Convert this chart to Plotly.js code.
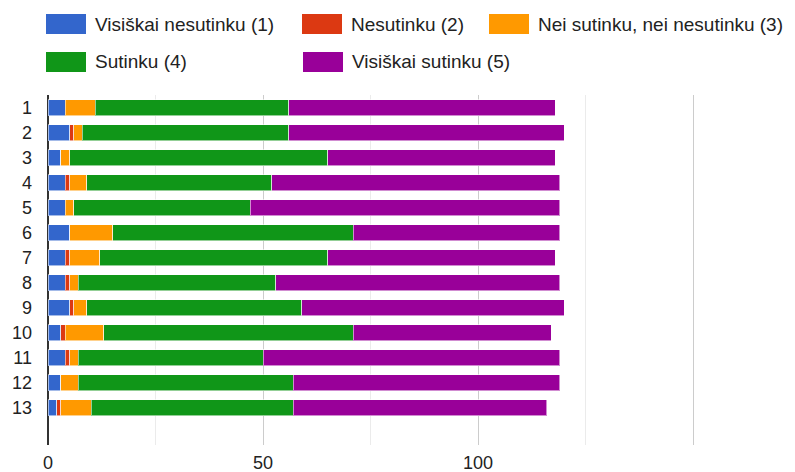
<!DOCTYPE html>
<html>
<head>
<meta charset="utf-8">
<script src="https://cdn.plot.ly/plotly-3.0.1.min.js"></script>
<style>html,body{margin:0;padding:0;background:#fff;}#chart{width:795px;height:472px;}</style>
</head>
<body>
<div id="chart"></div>
<script>
// ---- data ----
const categories = ['1','2','3','4','5','6','7','8','9','10','11','12','13'];
const seriesNames = ['Visiškai nesutinku (1)','Nesutinku (2)','Nei sutinku, nei nesutinku (3)','Sutinku (4)','Visiškai sutinku (5)'];
const seriesColors = ['#3366cc','#dc3912','#ff9900','#109618','#990099'];
const visiskaiNesutinku = [4, 5, 3, 4, 4, 5, 4, 4, 5, 3, 4, 3, 2];
const nesutinku         = [0, 1, 0, 1, 0, 0, 1, 1, 1, 1, 1, 0, 1];
const neiSutinku        = [7, 2, 2, 4, 2, 10, 7, 2, 3, 9, 2, 4, 7];
const sutinku           = [45, 48, 60, 43, 41, 56, 53, 46, 50, 58, 43, 50, 47];
const visiskaiSutinku   = [62, 64, 53, 67, 72, 48, 53, 66, 61, 46, 69, 62, 59];
const xTickVals = [0, 50, 100, 150];
const xTickText = ['0', '50', '100', ''];

const seriesValues = [visiskaiNesutinku, nesutinku, neiSutinku, sutinku, visiskaiSutinku];

// ---- layout geometry (pixels) ----
const W = 795, H = 472, L = 48, R = 795, T = 95, B = 445;
const px = x => (x - L) / (R - L);
const py = y => (B - y) / (B - T);

const traces = seriesValues.map((vals, i) => ({
  type: 'bar',
  orientation: 'h',
  name: seriesNames[i],
  y: categories,
  x: vals,
  marker: {color: seriesColors[i], line: {color: 'rgba(255,255,255,0.55)', width: 1}},
  hoverinfo: 'x+name'
}));

// custom legend (large swatches like the reference)
const legendPos = [[46, 24], [302, 24], [489, 24], [46, 62], [303, 62]];
const shapes = [], annotations = [];
legendPos.forEach((p, i) => {
  shapes.push({type: 'rect', xref: 'paper', yref: 'paper',
    x0: px(p[0]), x1: px(p[0] + 40), y0: py(p[1] + 10), y1: py(p[1] - 10),
    fillcolor: seriesColors[i], line: {width: 0}});
  annotations.push({xref: 'paper', yref: 'paper', x: px(p[0] + 47), y: py(p[1]),
    xanchor: 'left', yanchor: 'middle', showarrow: false, text: seriesNames[i],
    font: {family: 'Liberation Sans, Arial, sans-serif', size: 19, color: '#222'}});
});

const layout = {
  width: W, height: H,
  margin: {l: L, r: W - R, t: T, b: H - B, pad: 0},
  paper_bgcolor: '#fff', plot_bgcolor: '#fff',
  barmode: 'stack',
  bargap: 0.36,
  showlegend: false,
  font: {family: 'Liberation Sans, Arial, sans-serif', size: 18, color: '#222'},
  xaxis: {
    range: [0, (R - L) / 4.3],
    tickvals: xTickVals, ticktext: xTickText,
    showgrid: true, gridcolor: '#cccccc', gridwidth: 1,
    minor: {dtick: 25, tick0: 0, showgrid: true, gridcolor: '#ebebeb', gridwidth: 1, ticks: ''},
    zeroline: true, zerolinecolor: '#333333', zerolinewidth: 1.5,
    ticks: '', ticklabelstandoff: 5,
    tickfont: {size: 18, color: '#222'},
    fixedrange: true
  },
  yaxis: {
    type: 'category',
    range: [13.5, -0.5],
    showgrid: false, zeroline: false, showline: false,
    ticks: '', ticklabelstandoff: 15,
    tickfont: {size: 18, color: '#222'},
    fixedrange: true
  },
  shapes: shapes,
  annotations: annotations
};

Plotly.newPlot('chart', traces, layout, {displayModeBar: false, staticPlot: true});
</script>
</body>
</html>
